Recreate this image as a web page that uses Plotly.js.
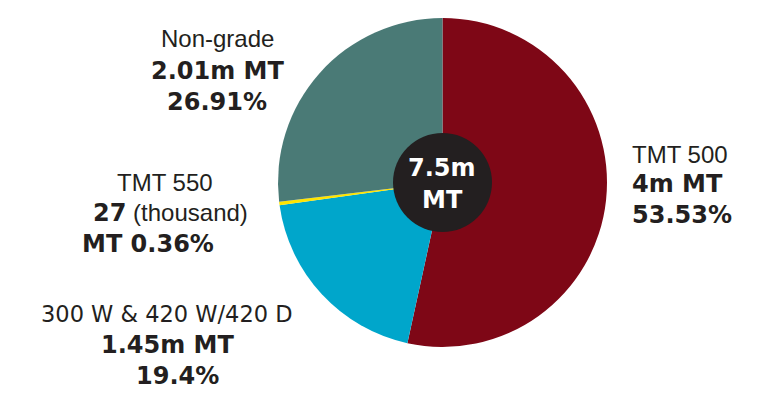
<!DOCTYPE html>
<html>
<head>
<meta charset="utf-8">
<script src="https://cdn.plot.ly/plotly-3.0.1.min.js"></script>
<style>html,body{margin:0;padding:0;background:#fff;}#chart{width:768px;height:412px;}</style>
</head>
<body>
<div id="chart"></div>
<script>
// Data
var categories = ["TMT 500", "300 W & 420 W/420 D", "TMT 550", "Non-grade"];
var percents = [53.53, 19.4, 0.36, 26.91];
var amountLabels = ["4m MT", "1.45m MT", "27", "2.01m MT"];
var colors = ["#7e0716", "#00a6cb", "#ffe500", "#4a7a76"];
var totalLabel = ["7.5m", "MT"];

var W = 768, H = 412;
function px(x){ return x / W; }
function py(y){ return 1 - y / H; }

var REG = "Liberation Sans, Arial, sans-serif";
var BOLD = "DejaVu Sans, sans-serif";
var INK = "#231f20";

var trace = {
  type: "pie",
  labels: categories,
  values: percents,
  sort: false,
  direction: "clockwise",
  rotation: 0,
  textinfo: "none",
  hoverinfo: "none",
  marker: { colors: colors, line: { width: 0 } },
  domain: { x: [px(278), px(607)], y: [py(347), py(18)] },
  showlegend: false
};

function ann(text, x, y, font, anchor){
  return { text: text, x: px(x), y: py(y), xref: "paper", yref: "paper",
    showarrow: false, xanchor: anchor || "center", yanchor: "middle",
    font: font };
}
var fReg = { family: REG, size: 24, color: INK };
var fBold = { family: BOLD, size: 24, color: INK, weight: "bold" };
var fMid = { family: "DejaVu Sans, sans-serif", size: 22.5, color: INK };

var annotations = [
  // TMT 500
  ann(categories[0], 630, 155, fReg, "left"),
  ann("<b>" + amountLabels[0] + "</b>", 630, 184, fBold, "left"),
  ann("<b>" + percents[0].toFixed(2) + "%</b>", 630, 215, fBold, "left"),
  // Non-grade
  ann(categories[3], 217, 39, fReg),
  ann("<b>" + amountLabels[3] + "</b>", 217, 71, fBold),
  ann("<b>" + percents[3].toFixed(2) + "%</b>", 217, 102, fBold),
  // TMT 550
  ann(categories[2], 165, 182, fReg),
  ann("<b><span style='font-family:DejaVu Sans'>" + amountLabels[2] + "</span></b> (thousand)", 170, 213, fReg),
  ann("<b>MT " + percents[2].toFixed(2) + "%</b>", 148, 244, fBold),
  // 300 W
  ann(categories[1], 167, 314, fMid),
  ann("<b>" + amountLabels[1] + "</b>", 167, 345, fBold),
  ann("<b>" + percents[1] + "%</b>", 177, 376, fBold),
  // centre
  ann("<b>" + totalLabel[0] + "</b>", 442, 168, { family: BOLD, size: 24, color: "#ffffff" }),
  ann("<b>" + totalLabel[1] + "</b>", 442, 200, { family: BOLD, size: 24, color: "#ffffff" })
];

var layout = {
  width: W, height: H,
  margin: { l: 0, r: 0, t: 0, b: 0 },
  paper_bgcolor: "#ffffff",
  plot_bgcolor: "#ffffff",
  showlegend: false,
  shapes: [{
    type: "circle", xref: "paper", yref: "paper",
    x0: px(393), x1: px(492), y0: py(232), y1: py(133),
    fillcolor: "#231f20", line: { width: 0 }, layer: "above"
  }],
  annotations: annotations
};

Plotly.newPlot("chart", [trace], layout, { displayModeBar: false, staticPlot: true });
</script>
</body>
</html>
